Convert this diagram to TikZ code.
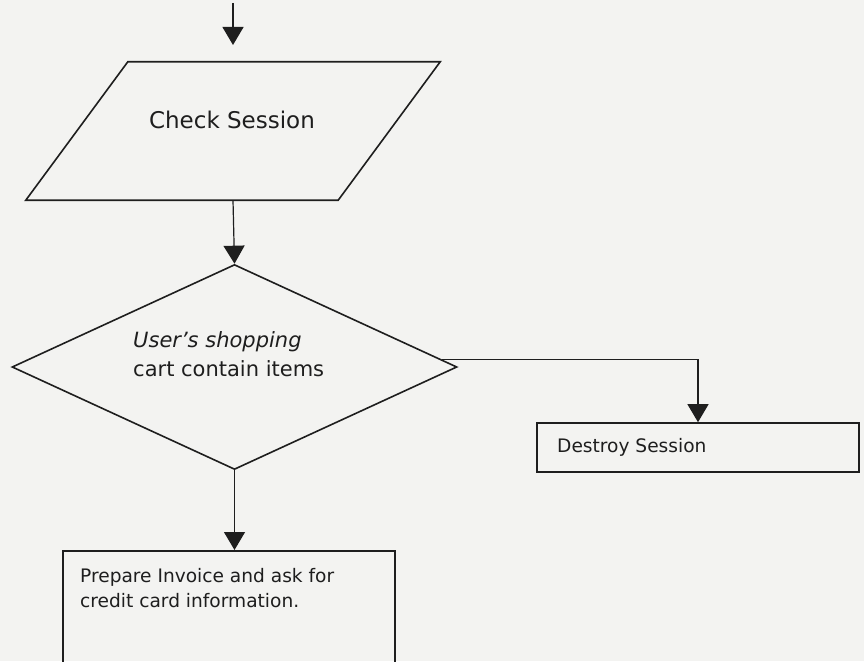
\documentclass[tikz,border=0pt]{standalone}
\usepackage{fontspec}
\setmainfont{DejaVu Sans}
\usetikzlibrary{arrows.meta,shapes.geometric,calc}

\definecolor{paper}{HTML}{F3F3F1}
\definecolor{ink}{HTML}{1E1E1E}

\tikzset{
  shapeline/.style={draw=ink, line width=1.6pt},
  flow/.style={draw=ink, line width=1.2pt, -{Triangle[width=21pt,length=18pt]}},
  txt/.style={inner sep=0pt, text=ink},
  bigtxt/.style={txt, font=\fontsize{23}{28}\selectfont},
  midtxt/.style={txt, font=\fontsize{21}{29}\selectfont},
  smalltxt/.style={txt, font=\fontsize{18.6}{25}\selectfont},
}

\begin{document}
\begin{tikzpicture}[x=1pt, y=-1pt]
  \useasboundingbox (0,0) rectangle (864,661);
  \fill[paper] (0,0) rectangle (864,661);
  \clip (0,0) rectangle (864,661);

  % input/output step: parallelogram around an invisible frame
  \node[minimum width=312pt, minimum height=138pt, inner sep=0pt] (check) at (233,131) {};
  \draw[shapeline]
    ([xshift=51pt]check.north west) -- ([xshift=51pt]check.north east) --
    ([xshift=-51pt]check.south east) -- ([xshift=-51pt]check.south west) -- cycle;
  \node[bigtxt, anchor=base] (checktxt) at (232,128) {Check Session};

  % decision
  \node[diamond, shapeline, minimum width=445pt, minimum height=205pt, inner sep=0pt] (cart) at (234.5,367) {};
  \node[midtxt, anchor=north west, align=left] (carttxt) at (133,331)
    {{\itshape User’s shopping}\\cart contain items};

  % process boxes
  \node[shapeline, minimum width=322pt, minimum height=49pt, inner sep=0pt] (destroy) at (698,447.5) {};
  \node[smalltxt, anchor=base west] (destroytxt) at (557,452) {Destroy Session};

  \node[shapeline, minimum width=332pt, minimum height=200pt, inner sep=0pt, anchor=north] (invoice) at (229,550) {};
  \node[smalltxt, anchor=north west, align=left] (invoicetxt) at (80,568)
    {Prepare Invoice and ask for\\credit card information.};

  % connectors
  \coordinate (entry) at (233,3);
  \coordinate (entrytip) at (233,45);
  \draw[flow] (entry) -- (entrytip);
  \draw[flow] (check.south) -- (cart.north);
  \coordinate (cartright) at ($(cart.north)!0.93!(cart.east)$);
  \draw[flow] (cartright) -| (destroy.north);
  \draw[flow] (cart.south) -- (cart.south |- invoice.north);
\end{tikzpicture}
\end{document}
